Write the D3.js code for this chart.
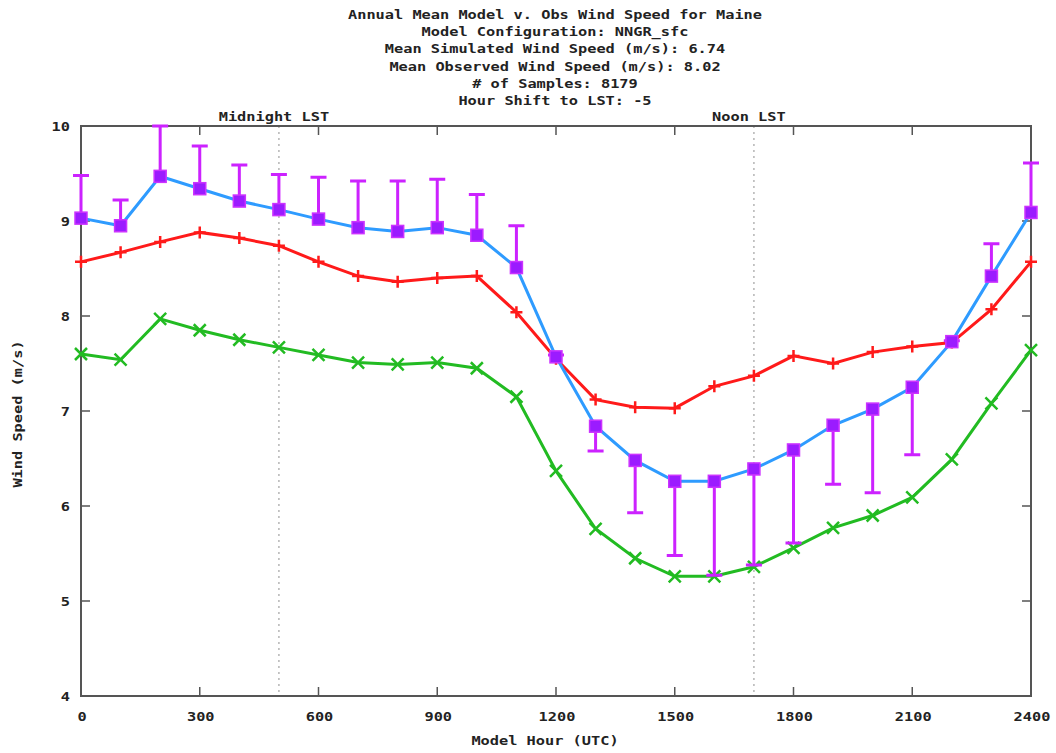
<!DOCTYPE html>
<html><head><meta charset="utf-8">
<script src="https://cdn.jsdelivr.net/npm/d3@7"></script>
<style>
body{margin:0;background:#fff;}
text{font-family:"DejaVu Sans Mono",monospace;font-weight:bold;fill:#222;}
</style></head>
<body><svg id="c" width="1056" height="753"></svg>
<script>
const hours = [0,100,200,300,400,500,600,700,800,900,1000,1100,1200,1300,1400,1500,1600,1700,1800,1900,2000,2100,2200,2300,2400];
const observed = [8.57,8.67,8.78,8.88,8.82,8.74,8.57,8.42,8.36,8.40,8.42,8.04,7.55,7.12,7.04,7.03,7.26,7.37,7.58,7.50,7.62,7.68,7.72,8.07,8.57];
const simulated = [7.60,7.54,7.97,7.85,7.75,7.67,7.59,7.51,7.49,7.51,7.45,7.15,6.37,5.76,5.45,5.26,5.26,5.36,5.56,5.77,5.90,6.09,6.49,7.08,7.64];
const corrected = [9.03,8.95,9.47,9.34,9.21,9.12,9.02,8.93,8.89,8.93,8.85,8.51,7.57,6.84,6.48,6.26,6.26,6.39,6.59,6.85,7.02,7.25,7.73,8.42,9.09];
const errorEnd = [9.48,9.22,10.0,9.79,9.59,9.49,9.46,9.42,9.42,9.44,9.28,8.95,7.59,6.58,5.93,5.48,5.27,5.38,5.61,6.23,6.14,6.54,7.74,8.76,9.61];
const xTicks = [0,300,600,900,1200,1500,1800,2100,2400];
const yTicks = [4,5,6,7,8,9,10];
const refLines = [{h:500,label:"Midnight LST"},{h:1700,label:"Noon LST"}];
const titleLines = ["Annual Mean Model v. Obs Wind Speed for Maine","Model Configuration: NNGR_sfc","Mean Simulated Wind Speed (m/s): 6.74","Mean Observed Wind Speed (m/s): 8.02","# of Samples: 8179","Hour Shift to LST: -5"];

const svg = d3.select("#c");
const L=81,R=1031,T=126,B=696;
const x = d3.scaleLinear().domain([0,2400]).range([L,R]);
const y = d3.scaleLinear().domain([4,10]).range([B,T]);
const CW = 9.2; // char width
function txt(g, s, px, py, anchor){
  const w = s.length*CW;
  let x0 = anchor==="middle"? px - w/2 : anchor==="end"? px - w : px;
  return g.append("text").attr("x",x0).attr("y",py).attr("font-size",13)
    .attr("textLength",w).attr("lengthAdjust","spacingAndGlyphs").text(s);
}
// title
titleLines.forEach((s,i)=>txt(svg,s,555,19+i*17.2,"middle"));

// reference dotted lines
refLines.forEach(r=>{
  svg.append("line").attr("x1",x(r.h)).attr("x2",x(r.h)).attr("y1",T).attr("y2",B)
    .attr("stroke","#aaa").attr("stroke-width",1.3).attr("stroke-dasharray","2,4");
  txt(svg,r.label,x(r.h)-5,121,"middle");
});

// ticks
const tk = svg.append("g").attr("stroke","#555").attr("stroke-width",1.5);
xTicks.forEach(h=>{
  tk.append("line").attr("x1",x(h)).attr("x2",x(h)).attr("y1",B).attr("y2",B-9);
  tk.append("line").attr("x1",x(h)).attr("x2",x(h)).attr("y1",T).attr("y2",T+9);
  txt(svg,String(h),x(h)+1,721,"middle");
});
yTicks.forEach(v=>{
  tk.append("line").attr("x1",L).attr("x2",L+9).attr("y1",y(v)).attr("y2",y(v));
  tk.append("line").attr("x1",R).attr("x2",R-9).attr("y1",y(v)).attr("y2",y(v));
  txt(svg,String(v),70,y(v)+5,"end");
});
// frame
svg.append("rect").attr("x",L).attr("y",T).attr("width",R-L).attr("height",B-T)
  .attr("fill","none").attr("stroke","#555").attr("stroke-width",2);

// axis labels
txt(svg,"Model Hour (UTC)",545,745,"middle");
const yl = svg.append("g").attr("transform","translate(22,414) rotate(-90)");
txt(yl,"Wind Speed (m/s)",0,0,"middle");

const line = d3.line().x((d,i)=>x(hours[i])).y(d=>y(d));
const g = svg.append("g");
// red observed
g.append("path").datum(observed).attr("d",line).attr("fill","none").attr("stroke","#ff1a1a").attr("stroke-width",3);
g.selectAll(".plus").data(observed).enter().append("path")
  .attr("d",(d,i)=>`M${x(hours[i])-6},${y(d)}h12M${x(hours[i])},${y(d)-6}v12`)
  .attr("stroke","#ff1a1a").attr("stroke-width",2.5);
// green simulated
g.append("path").datum(simulated).attr("d",line).attr("fill","none").attr("stroke","#22bb22").attr("stroke-width",3);
g.selectAll(".cross").data(simulated).enter().append("path")
  .attr("d",(d,i)=>{const cx=x(hours[i]),cy=y(d);return `M${cx-6},${cy-6}L${cx+6},${cy+6}M${cx-6},${cy+6}L${cx+6},${cy-6}`;})
  .attr("stroke","#22bb22").attr("stroke-width",2.5);
// blue corrected
g.append("path").datum(corrected).attr("d",line).attr("fill","none").attr("stroke","#2e9bff").attr("stroke-width",3);
// error bars
g.selectAll(".eb").data(corrected).enter().append("path")
  .attr("d",(d,i)=>{const cx=x(hours[i]),y1=y(d),y2=y(errorEnd[i]);return `M${cx},${y1}V${y2}M${cx-8},${y2}h16`;})
  .attr("stroke","#cc22ff").attr("stroke-width",3).attr("fill","none");
// squares
g.selectAll(".sq").data(corrected).enter().append("rect")
  .attr("x",(d,i)=>x(hours[i])-6).attr("y",d=>y(d)-6).attr("width",12).attr("height",12)
  .attr("fill","#9b1bff").attr("stroke","#cc33ff").attr("stroke-width",1.5);
</script></body></html>
